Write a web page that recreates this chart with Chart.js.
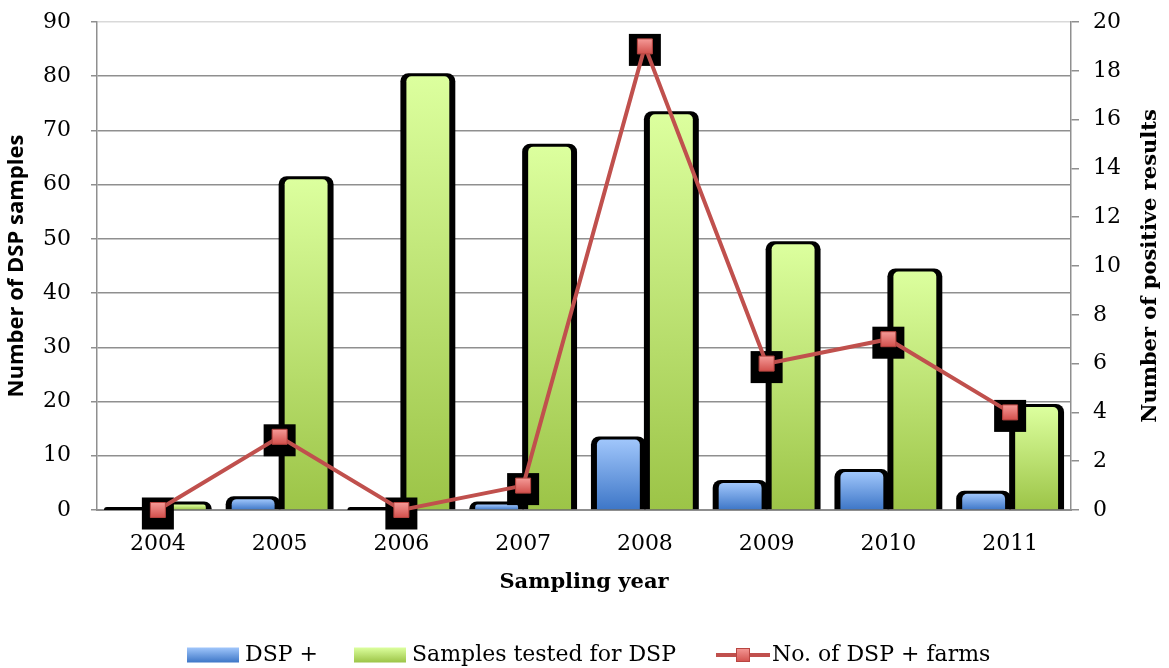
<!DOCTYPE html>
<html>
<head>
<meta charset="utf-8">
<script src="https://cdn.jsdelivr.net/npm/chart.js@4.4.1/dist/chart.umd.min.js"></script>
<style>
  html, body { margin: 0; padding: 0; background: #ffffff; }
  canvas { display: block; }
</style>
</head>
<body>
<canvas id="chart" width="1169" height="668"></canvas>
<script>
// Sampling years and yearly counts
const years = ['2004', '2005', '2006', '2007', '2008', '2009', '2010', '2011'];
const dspPositive = [0, 2, 0, 1, 13, 5, 7, 3];
const samplesTested = [1, 61, 80, 67, 73, 49, 44, 19];
const positiveFarms = [0, 3, 0, 1, 19, 6, 7, 4];

const seriesNames = ['DSP +', 'Samples tested for DSP', 'No. of DSP + farms'];
const axisTitles = {
  left: 'Number of DSP samples',
  right: 'Number of positive results',
  bottom: 'Sampling year'
};

const GRID = '#8f8f8f';
const SERIF = '"DejaVu Serif", "Liberation Serif", serif';
const SANS = '"Open Sans", "Noto Sans", sans-serif';
const RED = '#c0504d';
const BLUE = ['#a0c6fb', '#3d76c7'];
const GREEN = ['#dcff9e', '#9cc447'];
const MARK = ['#f59a97', '#d2504c'];

function vGradient(ctx, top, bottom, colors) {
  if (!isFinite(top) || !isFinite(bottom) || bottom - top < 1) return colors[0];
  const g = ctx.createLinearGradient(0, top, 0, bottom);
  g.addColorStop(0, colors[0]);
  g.addColorStop(1, colors[1]);
  return g;
}

// per-bar vertical gradient, computed from the value axis
function barFill(colors) {
  return (c) => {
    const chart = c.chart;
    if (!chart.chartArea || c.type !== 'data') return colors[0];
    const ys = chart.scales.y;
    return vGradient(chart.ctx, ys.getPixelForValue(c.raw), ys.getPixelForValue(0), colors);
  };
}

function markerFill(c) {
  const chart = c.chart;
  if (!chart.chartArea || c.type !== 'data') return MARK[0];
  const py = chart.scales.y1.getPixelForValue(c.raw);
  return vGradient(chart.ctx, py - 7.5, py + 7.5, MARK);
}

// fixed axis box sizes so the plot area keeps its place
function fixVertical(width) {
  return (s) => {
    s.width = width;
    s.paddingTop = 0;
    s.paddingBottom = 0;
  };
}

// black drop shapes behind each bar and each marker
const shadows = {
  id: 'shadows',
  beforeDatasetDraw(chart, args) {
    const meta = args.meta;
    const ctx = chart.ctx;
    ctx.save();
    ctx.fillStyle = '#000';
    if (meta.type === 'bar') {
      meta.data.forEach((bar) => {
        const p = bar.getProps(['x', 'y', 'base', 'width'], true);
        const top = Math.min(p.y, p.base) - 3;
        ctx.beginPath();
        ctx.roundRect(p.x - p.width / 2 - 6, top, p.width + 12, p.base - top, [8, 8, 0, 0]);
        ctx.fill();
      });
    } else if (meta.type === 'line') {
      meta.data.forEach((pt) => {
        ctx.fillRect(pt.x - 16, pt.y - 12.5, 32, 32);
      });
    }
    ctx.restore();
  }
};

// right axis title (reads bottom to top) and the legend row
const decorations = {
  id: 'decorations',
  afterDraw(chart) {
    const ctx = chart.ctx;
    const area = chart.chartArea;
    ctx.save();

    ctx.fillStyle = '#000';
    ctx.font = 'bold 21px ' + SERIF;
    ctx.textAlign = 'center';
    ctx.textBaseline = 'middle';
    ctx.translate(1151, (area.top + area.bottom) / 2);
    ctx.rotate(-Math.PI / 2);
    ctx.fillText(axisTitles.right, 0, 0);
    ctx.setTransform(1, 0, 0, 1, 0, 0);

    const ly = 655;
    ctx.font = '22px ' + SERIF;
    ctx.textAlign = 'left';
    ctx.textBaseline = 'middle';

    // bar swatches
    const swatches = [
      { x: 187, colors: BLUE, text: seriesNames[0] },
      { x: 354, colors: GREEN, text: seriesNames[1] }
    ];
    swatches.forEach((s) => {
      ctx.fillStyle = vGradient(ctx, ly - 7.5, ly + 7.5, s.colors);
      ctx.fillRect(s.x, ly - 7.5, 52, 15);
      ctx.fillStyle = '#000';
      ctx.fillText(s.text, s.x + 58, ly);
    });

    // line swatch with marker
    ctx.strokeStyle = RED;
    ctx.lineWidth = 4;
    ctx.lineCap = 'butt';
    ctx.beginPath();
    ctx.moveTo(716, ly);
    ctx.lineTo(770, ly);
    ctx.stroke();
    ctx.fillStyle = vGradient(ctx, ly - 7, ly + 7, MARK);
    ctx.fillRect(736, ly - 7, 14, 14);
    ctx.lineWidth = 1;
    ctx.strokeStyle = '#b84541';
    ctx.strokeRect(736.5, ly - 6.5, 13, 13);
    ctx.fillStyle = '#000';
    ctx.fillText(seriesNames[2], 772, ly);

    ctx.restore();
  }
};

new Chart(document.getElementById('chart'), {
  data: {
    labels: years,
    datasets: [
      {
        type: 'bar',
        label: seriesNames[0],
        data: dspPositive,
        yAxisID: 'y',
        order: 1,
        backgroundColor: barFill(BLUE),
        borderWidth: 0,
        borderRadius: { topLeft: 5, topRight: 5, bottomLeft: 0, bottomRight: 0 },
        borderSkipped: 'bottom',
        categoryPercentage: 0.87,
        barPercentage: 0.81
      },
      {
        type: 'bar',
        label: seriesNames[1],
        data: samplesTested,
        yAxisID: 'y',
        order: 2,
        backgroundColor: barFill(GREEN),
        borderWidth: 0,
        borderRadius: { topLeft: 5, topRight: 5, bottomLeft: 0, bottomRight: 0 },
        borderSkipped: 'bottom',
        categoryPercentage: 0.87,
        barPercentage: 0.81
      },
      {
        type: 'line',
        label: seriesNames[2],
        data: positiveFarms,
        yAxisID: 'y1',
        order: 0,
        borderColor: RED,
        borderWidth: 4,
        tension: 0,
        clip: false,
        pointStyle: 'rect',
        pointRadius: 10.6,
        pointHoverRadius: 10.6,
        pointBackgroundColor: markerFill,
        pointBorderColor: '#b84541',
        pointBorderWidth: 1
      }
    ]
  },
  options: {
    responsive: false,
    animation: false,
    events: [],
    layout: { autoPadding: false, padding: { top: 22, bottom: 73, left: 0, right: 0 } },
    plugins: {
      legend: { display: false },
      tooltip: { enabled: false }
    },
    scales: {
      x: {
        type: 'category',
        offset: true,
        grid: { display: false, drawTicks: false },
        border: { display: true, color: GRID, width: 2 },
        ticks: { color: '#000', font: { family: SERIF, size: 22 }, padding: 21, maxRotation: 0 },
        title: {
          display: true,
          text: axisTitles.bottom,
          color: '#000',
          font: { family: SERIF, size: 21, weight: 'bold' },
          padding: { top: 0, bottom: 0 }
        },
        afterFit(s) { s.height = 85; s.paddingLeft = 0; s.paddingRight = 0; }
      },
      y: {
        type: 'linear',
        position: 'left',
        min: 0,
        max: 90,
        ticks: { stepSize: 10, color: '#000', font: { family: SERIF, size: 22 }, padding: 20 },
        grid: {
          color: (c) => (c.tick && c.tick.value === 90 ? '#d9d9d9' : GRID),
          lineWidth: 1.5,
          tickColor: GRID,
          tickLength: 6,
          drawTicks: true
        },
        border: { display: true, color: GRID, width: 1.5 },
        title: {
          display: true,
          text: axisTitles.left,
          color: '#000',
          font: { family: SANS, size: 22, weight: 'bold' },
          padding: { top: 4, bottom: 0 }
        },
        afterFit: fixVertical(97)
      },
      y1: {
        type: 'linear',
        position: 'right',
        min: 0,
        max: 20,
        ticks: { stepSize: 2, color: '#000', font: { family: SERIF, size: 22 }, padding: 14 },
        grid: { drawOnChartArea: false, drawTicks: true, tickLength: 8, color: GRID, lineWidth: 1.5 },
        border: { display: true, color: GRID, width: 1.5 },
        afterFit: fixVertical(98)
      }
    }
  },
  plugins: [shadows, decorations]
});
</script>
</body>
</html>
